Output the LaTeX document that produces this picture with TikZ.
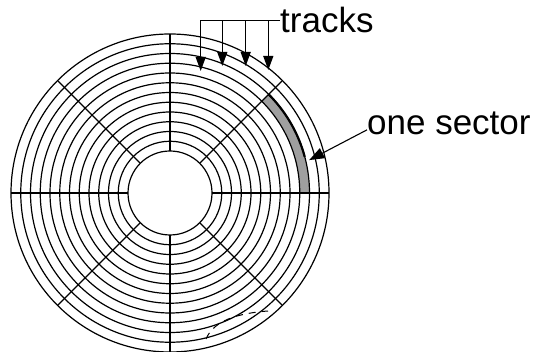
\documentclass[tikz,border=0pt]{standalone}
\usepackage{fontspec}
\setmainfont{Liberation Sans}
\usetikzlibrary{arrows.meta}
\begin{document}
\begin{tikzpicture}[x=1pt,y=1pt,
  ring/.style={line width=1.2pt},
  spoke/.style={line width=1.2pt},
  lbl/.style={font=\fontsize{35}{40}\selectfont, inner sep=0pt, anchor=base west},
  trk/.style={line width=1.2pt, -{Triangle[length=14pt,width=10pt]}},
  secarrow/.style={line width=1.1pt, -{Triangle[length=15pt,width=11pt]}},
  rot/.style={line width=1pt, dash pattern=on 7pt off 6pt}]
\useasboundingbox (-170,-159) rectangle (367,193);
\fill[white] (-170,-159) rectangle (367,193);
% shaded sector
\fill[gray!75] (0:129.75) arc[start angle=0,end angle=45,radius=129.75]
  -- (45:139.5) arc[start angle=45,end angle=0,radius=139.5] -- cycle;
% tracks
\foreach \i in {0,...,12} \draw[ring] (0,0) circle[radius=42+9.75*\i];
% sector boundaries
\foreach \a in {0,45,...,315} \draw[spoke] (\a:42) -- (\a:159);
\draw[line width=2.2pt] (45:139.5) arc[start angle=45,end angle=15,radius=139.5];
% labels
\node[lbl] (tracks) at (110,160) {tracks};
\node[lbl] (sector) at (197,58) {one sector};
% track arrows
\coordinate (p1) at (30.7,122);
\coordinate (p2) at (52.3,127);
\coordinate (p3) at (75.7,127);
\coordinate (p4) at (98.3,123);
\draw[line width=1.2pt] (tracks.west) -- (p1 |- tracks.west);
\foreach \p in {p1,p2,p3,p4} \draw[trk] (\p |- tracks.west) -- (\p);
% sector arrow
\coordinate (stip) at (13.3:143);
\draw[secarrow] ([yshift=-6pt]sector.west) -- (stip);
% rotation hint
\coordinate (d1) at (36,-146);
\coordinate (d2) at (98,-118);
\draw[rot] (d1) .. controls (42,-132) and (58,-121) .. (d2);
\end{tikzpicture}
\end{document}
